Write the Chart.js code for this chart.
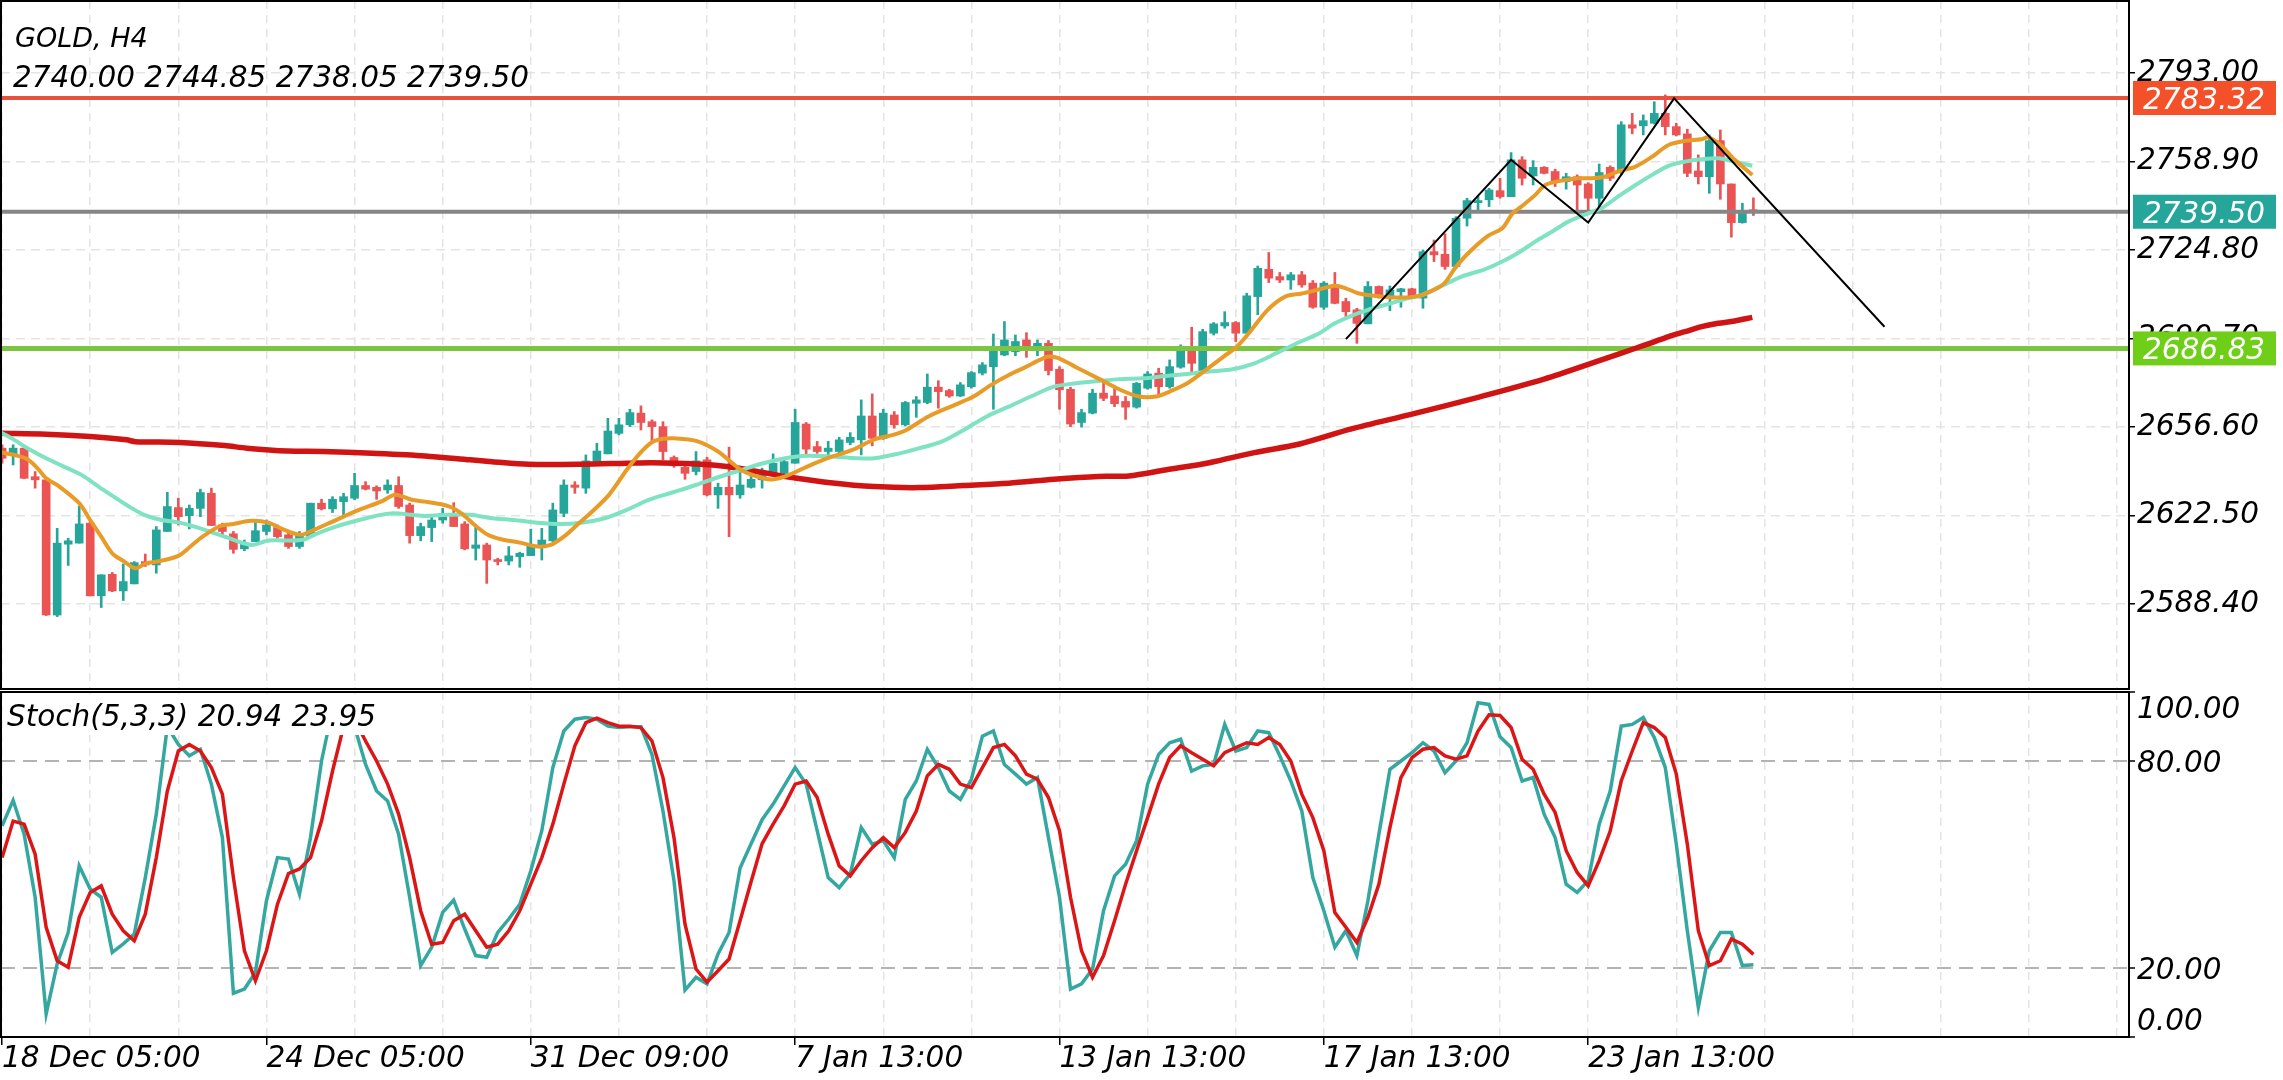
<!DOCTYPE html>
<html>
<head>
<meta charset="utf-8">
<title>GOLD, H4</title>
<script src="https://cdn.jsdelivr.net/npm/chart.js@4.4.1/dist/chart.umd.min.js"></script>
<style>
  html, body { margin: 0; padding: 0; background: #fff; }
  #wrap { position: relative; width: 2283px; height: 1080px; overflow: hidden; background: #fff; }
  #main { position: absolute; left: 0; top: 0; width: 2283px; height: 692px; }
  #stoch { position: absolute; left: 0; top: 690px; width: 2283px; height: 390px; }
</style>
</head>
<body>
<div id="wrap">
  <canvas id="main" width="2283" height="692"></canvas>
  <canvas id="stoch" width="2283" height="390"></canvas>
</div>
<script>
// --- data (H4 candles, index 0 = 18 Dec 05:00) ---
const candleOpen = [
  2648.4,2645.8,2648.4,2637.4,2636.2,2584.1,2611.4,2611.8,2619.5,2591.5,
  2599.8,2593.4,2596.1,2604.7,2603.4,2616.3,2625.5,2622.4,2625.2,2631.0,
  2618.8,2615.4,2609.6,2612.4,2616.3,2617.8,2615.0,2610.5,2614.3,2627.2,
  2625.0,2627.8,2629.1,2634.0,2633.3,2632.3,2634.0,2626.5,2614.7,2617.8,
  2620.7,2622.7,2619.2,2609.8,2611.1,2605.3,2604.9,2606.6,2607.0,2610.5,
  2612.7,2623.3,2634.2,2633.0,2643.2,2646.2,2654.1,2657.4,2661.9,2658.6,
  2656.7,2644.8,2641.0,2639.4,2643.9,2630.4,2633.3,2630.4,2633.3,2636.2,
  2638.5,2638.7,2642.6,2657.7,2649.0,2647.1,2647.1,2650.6,2651.6,2660.8,
  2652.2,2661.2,2657.4,2665.7,2666.0,2671.9,2670.6,2668.5,2672.1,2677.3,
  2679.8,2684.3,2685.6,2690.1,2686.3,2688.8,2678.8,2671.1,2658.3,2661.9,
  2669.6,2668.5,2666.4,2664.2,2671.5,2677.3,2672.1,2679.6,2687.5,2677.9,
  2692.7,2695.5,2696.8,2692.7,2706.8,2717.3,2714.5,2713.2,2715.2,2712.0,
  2702.7,2711.3,2704.9,2701.7,2696.3,2710.7,2706.8,2708.7,2709.8,2706.2,
  2724.1,2723.1,2718.4,2737.0,2743.0,2744.1,2747.6,2745.3,2759.5,2753.3,
  2756.6,2755.0,2751.1,2753.0,2750.2,2744.7,2756.6,2755.6,2773.0,2772.6,
  2773.6,2777.4,2772.3,2769.5,2755.2,2753.0,2766.9,2750.2,2735.3,2740.00
];
const candleHigh = [
  2649.7,2649.7,2649.0,2639.4,2636.2,2617.5,2613.7,2626.1,2620.1,2599.6,
  2600.5,2603.8,2604.7,2607.6,2618.2,2631.4,2629.1,2626.5,2632.6,2633.0,
  2619.5,2616.3,2613.0,2620.1,2620.7,2618.8,2615.6,2616.3,2627.2,2628.7,
  2629.7,2631.0,2638.7,2635.5,2633.9,2636.2,2637.4,2627.2,2619.5,2622.7,
  2625.2,2627.4,2620.1,2618.2,2611.8,2606.0,2610.5,2608.3,2617.2,2617.5,
  2627.2,2636.2,2635.5,2645.8,2650.3,2659.9,2659.9,2663.4,2664.7,2659.3,
  2658.6,2645.4,2641.9,2647.1,2644.9,2634.9,2648.8,2639.4,2637.5,2640.7,
  2646.2,2644.5,2663.4,2658.3,2651.0,2651.0,2652.6,2654.4,2667.0,2669.3,
  2663.4,2662.5,2666.4,2668.3,2677.0,2674.4,2671.1,2673.7,2677.9,2681.4,
  2692.4,2697.2,2692.0,2692.9,2690.1,2689.9,2679.8,2671.9,2663.4,2671.1,
  2673.7,2671.9,2668.3,2673.7,2677.9,2679.2,2682.4,2688.2,2695.0,2694.2,
  2696.8,2701.0,2697.2,2708.1,2718.6,2723.8,2716.1,2716.1,2716.5,2713.0,
  2712.6,2716.1,2706.2,2702.3,2712.6,2710.9,2710.9,2710.0,2710.0,2724.8,
  2728.6,2731.0,2737.6,2744.7,2745.3,2748.5,2752.4,2762.3,2760.7,2759.2,
  2756.9,2755.9,2754.3,2753.7,2750.7,2757.9,2757.2,2774.2,2777.4,2776.8,
  2781.9,2784.5,2773.6,2771.3,2761.4,2769.1,2771.0,2750.2,2742.8,2744.85
];
const candleLow = [
  2642.6,2641.9,2636.6,2633.0,2583.9,2583.5,2603.2,2611.8,2591.5,2587.0,
  2593.1,2589.7,2596.1,2602.8,2600.2,2616.3,2618.8,2617.3,2622.0,2618.6,
  2615.0,2607.9,2608.9,2612.4,2615.0,2613.7,2609.8,2609.8,2614.3,2624.6,
  2623.6,2622.0,2628.5,2632.3,2628.7,2631.0,2625.2,2611.8,2612.7,2612.4,
  2619.5,2618.2,2609.2,2605.3,2596.3,2603.4,2603.4,2602.5,2607.0,2605.3,
  2612.4,2622.0,2631.0,2631.0,2641.9,2646.2,2653.5,2656.7,2655.4,2650.3,
  2643.9,2641.0,2636.4,2638.1,2630.0,2625.2,2614.3,2629.1,2633.0,2633.0,
  2638.1,2638.5,2642.6,2645.4,2646.4,2645.8,2646.4,2649.7,2645.8,2649.3,
  2651.8,2656.1,2657.0,2660.3,2665.5,2663.8,2668.0,2668.3,2671.5,2676.6,
  2663.4,2684.0,2684.0,2683.4,2684.0,2676.6,2663.4,2656.7,2656.5,2661.6,
  2666.7,2664.4,2659.5,2663.8,2671.1,2668.3,2671.5,2679.2,2677.3,2677.3,
  2692.0,2694.6,2689.5,2692.7,2699.8,2712.2,2712.2,2709.6,2710.4,2702.3,
  2701.9,2704.0,2699.1,2688.8,2696.3,2706.2,2701.4,2702.7,2706.5,2702.3,
  2720.3,2717.3,2717.7,2734.0,2739.6,2741.5,2744.7,2745.3,2749.8,2749.8,
  2754.1,2749.2,2748.2,2738.9,2738.7,2741.5,2751.5,2753.7,2769.5,2769.1,
  2773.3,2769.1,2768.7,2753.0,2750.2,2746.6,2744.3,2729.7,2735.1,2738.05
];
const candleClose = [
  2644.5,2648.4,2636.8,2636.2,2584.1,2611.8,2612.7,2619.2,2591.5,2599.6,
  2593.4,2597.0,2604.3,2603.4,2616.9,2625.9,2622.0,2625.2,2631.3,2618.6,
  2616.3,2609.4,2611.8,2616.6,2618.8,2614.3,2610.5,2615.2,2627.2,2625.0,
  2628.7,2629.7,2634.0,2632.6,2631.9,2634.2,2625.9,2614.7,2618.2,2620.7,
  2623.3,2618.2,2609.6,2611.1,2605.3,2604.7,2606.9,2607.9,2611.1,2613.0,
  2624.6,2634.2,2633.3,2643.5,2647.3,2655.0,2657.4,2662.1,2658.3,2656.7,
  2647.1,2641.6,2638.7,2643.5,2630.4,2633.3,2630.4,2634.2,2636.4,2638.1,
  2642.6,2643.2,2658.3,2648.0,2647.1,2648.4,2651.6,2652.6,2660.8,2652.2,
  2661.9,2657.4,2666.0,2667.0,2671.9,2670.2,2668.5,2672.8,2677.5,2680.5,
  2686.5,2690.1,2689.5,2686.3,2688.8,2678.3,2670.9,2657.7,2662.1,2669.6,
  2667.6,2665.5,2664.2,2673.4,2677.0,2672.1,2679.8,2687.5,2681.1,2693.3,
  2696.3,2696.8,2692.7,2707.1,2717.7,2713.9,2713.2,2715.2,2711.3,2702.7,
  2712.0,2704.2,2701.0,2696.5,2710.7,2706.5,2709.4,2709.8,2706.8,2724.1,
  2722.9,2718.4,2737.0,2743.8,2743.8,2747.9,2745.3,2759.5,2752.4,2756.6,
  2754.3,2751.1,2753.0,2749.8,2744.7,2754.6,2752.4,2773.0,2771.7,2774.6,
  2777.4,2772.3,2769.1,2754.3,2753.0,2766.9,2750.2,2735.3,2739.6,2739.50
];

// moving averages, [candle index, price] read at intervals
const fastMa = [
  [-0.1,2646.7],[1.1,2645.8],[2.3,2644.1],[3.2,2640.7],[4,2636.8],[5.2,2633.6],[7,2627.2],[8,2620.7],
  [9,2614.3],[10,2607.9],[11.1,2604.7],[12.1,2602.1],[13.1,2604.1],[14.1,2604.7],[16,2606.9],[17.1,2610.5],
  [18.2,2614.3],[19.8,2618.4],[21,2619.2],[22.6,2620.4],[24.2,2619.7],[25.3,2617.5],[27.1,2615.0],[28.3,2616.9],
  [30.3,2620.7],[32.4,2624.6],[34.4,2627.8],[35.6,2630.4],[36.4,2629.7],[37.2,2628.5],[38.4,2627.8],[40.5,2626.1],
  [41.7,2623.3],[42.9,2618.8],[44.1,2615.0],[45.3,2613.3],[47,2612.0],[48.6,2610.5],[49.8,2611.1],[51,2614.3],
  [52.2,2618.8],[53.4,2623.3],[55.1,2630.4],[56.7,2640.0],[57.9,2646.4],[59,2650.7],[60,2652.0],[61,2652.2],
  [63,2651.2],[65,2647.1],[67.1,2640.0],[69.1,2636.8],[70.1,2636.4],[71.1,2637.5],[73.1,2641.3],[75.2,2644.9],
  [77.2,2647.7],[79.2,2651.8],[80.9,2653.5],[82.1,2655.4],[84.1,2660.6],[86.5,2665.1],[88.2,2668.3],[89.8,2672.8],
  [91.4,2676.6],[93,2679.8],[94.2,2682.4],[95,2683.7],[95.9,2683.1],[97.5,2679.6],[99.5,2675.3],[101.5,2670.9],
  [103.2,2668.3],[104.8,2668.3],[106,2670.2],[107.6,2673.4],[109.2,2678.3],[110.9,2683.7],[112.1,2687.5],[113.3,2693.3],
  [114.9,2701.7],[116.5,2706.8],[118,2708.0],[119.5,2709.5],[121,2711.0],[122,2710.0],[123.1,2708.1],[124.6,2707.1],
  [126.2,2706.5],[127.7,2706.5],[128.9,2707.4],[130.1,2709.6],[131,2712.2],[131.9,2717.7],[133.1,2723.5],[134.9,2730.2],
  [136.2,2733.1],[137.1,2738.7],[138,2741.7],[139.2,2746.0],[140.1,2749.8],[141.6,2751.5],[143.1,2752.4],[144.3,2752.4],
  [145.5,2753.0],[146.7,2755.0],[148.3,2756.9],[149.8,2760.7],[151.3,2765.2],[152.8,2766.8],[154.3,2767.4],[154.9,2768.2],
  [156.1,2764.9],[157.3,2759.5],[158.9,2753.7]
];
const midMa = [
  [-0.1,2654.4],[1.1,2651.6],[2.3,2648.4],[4,2644.5],[5.6,2641.3],[7.2,2638.1],[9.2,2632.3],[11.3,2626.5],
  [12.9,2622.7],[14.5,2620.7],[16.1,2619.7],[18.2,2617.2],[20.2,2614.3],[22.6,2611.1],[24.2,2612.8],[26.3,2612.8],
  [27.5,2613.3],[28.3,2615.0],[30.3,2618.2],[32.4,2620.7],[34.4,2622.7],[35.6,2623.3],[37.2,2622.7],[38.4,2622.3],
  [40.5,2622.7],[42.5,2622.7],[44.5,2621.4],[46.5,2620.7],[48.6,2619.7],[50.6,2619.2],[52.6,2619.7],[54.7,2621.4],
  [56.7,2624.6],[58.7,2628.5],[61,2631.5],[63,2634.2],[65,2637.2],[67.1,2640.0],[69.1,2642.6],[71.1,2644.5],
  [73.1,2645.5],[75.2,2645.2],[77.6,2644.5],[79.2,2644.5],[81.3,2646.2],[83.3,2648.4],[85.3,2650.9],[87.3,2655.4],
  [89.4,2660.6],[91.4,2664.4],[93.4,2668.3],[95.5,2672.1],[97.5,2673.4],[99.5,2674.3],[101.5,2675.0],[103.6,2675.3],
  [105.6,2676.2],[107.6,2677.0],[109.6,2677.9],[111.7,2678.8],[113.7,2681.1],[115.7,2685.0],[117.9,2689.5],[119.6,2692.7],
  [121,2696.5],[122.5,2699.4],[124,2701.7],[125.9,2704.0],[127.7,2706.2],[128.9,2707.4],[130.7,2710.9],[132.5,2714.5],
  [134.6,2717.3],[136.2,2720.3],[137.7,2723.8],[139.2,2728.0],[140.7,2731.8],[142.2,2735.7],[144,2738.9],[145.2,2740.8],
  [146.7,2745.3],[148.3,2749.8],[149.8,2753.7],[151.3,2757.2],[152.8,2758.8],[154.3,2759.7],[155.8,2760.1],[157.3,2758.8],
  [158.9,2757.2]
];
const slowMa = [
  [-0.1,2654.1],[4,2653.8],[8,2652.9],[11.3,2651.6],[12.1,2650.9],[16.1,2650.6],[20.2,2649.4],[22.2,2648.4],
  [25.9,2647.3],[29.1,2647.1],[33.6,2646.4],[38.4,2645.4],[42.5,2643.9],[44.5,2643.2],[47.8,2642.2],[52.6,2642.2],
  [56.7,2642.6],[59,2642.8],[63,2642.3],[65.8,2641.3],[69.1,2639.0],[71.1,2637.5],[75.2,2635.1],[79.2,2633.6],
  [83.3,2633.2],[87.3,2634.0],[91.4,2634.9],[95.5,2636.4],[99.5,2637.5],[102.3,2637.7],[105.6,2640.0],[109.6,2642.8],
  [113.7,2646.7],[117.8,2650.0],[122.5,2655.8],[128,2661.5],[134,2668.0],[140,2675.0],[145.2,2682.4],[148.3,2686.9],
  [149.8,2689.1],[151.3,2691.4],[152.8,2693.3],[154.3,2695.2],[155.8,2696.5],[157.3,2697.4],[158.9,2698.8]
];

// hand-drawn zigzag, [candle index, price]
const zigzag = [[122.0,2690.4],[137.0,2759.5],[144.0,2735.3],[151.8,2783.2],[170.9,2695.2]];

// horizontal levels
const levelValues = [2783.32, 2739.50, 2686.83];
const levelLineColors = ['#e8513b', '#868686', '#7cc540'];
const levelLineWidths = [4, 4, 5];
const levelTagColors = ['#f4502a', '#26a69a', '#6fcf18'];

// stochastic (5,3,3) per candle
const stochK = [
  61.2,68.6,58.8,40.5,6.7,21.2,30.3,49.6,42.9,40.5,
  24.5,27.0,29.8,46.2,64.6,90,84.8,81.5,83.4,73.3,
  57.8,12.7,13.9,18.7,39.5,52.0,51.6,41.4,57.8,80.0,
  95,97,90,79.0,71.3,68.4,58.8,40.5,20.7,26.0,
  36.1,39.7,31.3,23.6,23.1,30.3,34.2,38.5,48.2,59.8,
  78.1,88.7,92.1,92.6,92.1,90.1,89.7,89.9,89.9,81.9,
  65.5,45.3,13.6,17.3,15.4,24.1,30.3,49,56,63,
  67.5,72.8,78.1,73.3,59.8,46.2,43.3,47.2,60.7,55.9,
  56.9,52.0,68.9,74.2,83.4,78.1,71.3,68.9,74.7,87.2,
  88.7,79.0,76.2,73.3,75.2,57.8,40.5,13.9,15.4,19.7,
  36.6,46.7,50.1,56.9,73.3,81.9,85.3,86.3,77.1,78.6,
  79.0,90.6,82.9,83.9,88.7,88.2,81.5,74.2,65.5,46.2,
  36.6,26.0,30.8,23.6,39.5,58.8,77.6,80.0,82.4,85.3,
  82.9,76.6,80.0,85.3,96.9,96.4,87,83.9,74.2,75.2,
  64.6,57.8,44.3,41.9,45.3,61.7,71.3,90.1,90.6,92.6,
  86.8,78.1,55.9,30.8,8.6,25.0,30.3,30.3,20.7,20.94
];
const stochD = [
  52.0,62.6,61.7,53.0,31.8,22.1,20.2,34.7,41.9,43.8,
  35.6,30.8,27.9,35.6,52.0,71.3,82.9,84.8,82.9,78.1,
  70.4,46.2,25.0,16.3,25.0,38.5,47.4,48.7,52.0,62.6,
  77.1,90,92,85.8,80.0,73.3,64.6,52.0,36.6,26.9,
  27.4,33.7,35.6,30.8,26.0,26.9,30.8,36.6,44.3,52.0,
  61.7,73.3,84.4,91.1,92.4,91.1,90.1,90.1,89.7,85.8,
  75.2,57.8,32.7,19.7,15.9,19.2,22.6,33.7,45,56,
  61.7,67.0,73.3,74.2,69.4,58.8,49.6,46.7,51.1,54.9,
  57.8,54.9,59.3,65.5,75.7,79.0,77.6,73.3,72.3,78.1,
  83.9,84.8,81.5,76.2,74.7,69.4,59.8,40.5,25.0,17.3,
  23.6,33.7,44.3,54.0,63.6,73.3,81.0,84.4,82.4,80.5,
  78.6,82.4,83.9,85.3,84.8,86.8,84.8,80.0,70.4,63.6,
  54.0,36.1,31.8,27.4,34.7,44.3,60.7,75.2,81.0,83.4,
  83.9,81.5,80.5,81.5,88.7,93.4,93.2,89.7,80.5,77.6,
  70.4,65.1,54.0,47.7,43.8,51.1,59.7,74.2,82.9,91.1,
  89.7,86.8,76.2,55.9,30.8,20.7,22.1,28.4,26.9,23.95
];

// axes
const priceTicks = [2588.40, 2622.50, 2656.60, 2690.70, 2724.80, 2758.90, 2793.00];
const stochLevels = [0, 20, 80, 100];
const gridIndex = [0,8,16,24,32,40,48,56,64,72,80,88,96,104,112,120,128,136,144,152,160,168,176,184,192];
const labelIndex = [0, 24, 48, 72, 96, 120, 144];
const dateLabels = ['18 Dec 05:00', '24 Dec 05:00', '31 Dec 09:00', '7 Jan 13:00', '13 Jan 13:00', '17 Jan 13:00', '23 Jan 13:00'];

const xMin = -0.1, xMax = 193.1;
const yMin = 2555.6, yMax = 2820.7;

const FAMILY = '"DejaVu Sans", Verdana, sans-serif';
const FONT = 'italic 29.5px ' + FAMILY;
const tickFont = { family: FAMILY, size: 29.5, style: 'italic', lineHeight: 1 };
const gridColor = '#e4e4e4';
const upColor = '#26a69a';
const downColor = '#ea5455';

const idx = candleOpen.map((_, i) => i);
const candleColors = idx.map(i => candleClose[i] >= candleOpen[i] ? upColor : downColor);
const pts = arr => arr.map(([x, y]) => ({ x, y }));

const framePlugin = {
  id: 'frame',
  afterDraw(chart) {
    const { ctx, chartArea: a } = chart;
    ctx.save();
    ctx.strokeStyle = '#000';
    ctx.lineWidth = 2;
    ctx.strokeRect(a.left, a.top, a.right - a.left, a.bottom - a.top);
    ctx.restore();
  }
};

const mainTextPlugin = {
  id: 'mainText',
  afterDraw(chart) {
    const { ctx, chartArea: a } = chart;
    const ys = chart.scales.y;
    ctx.save();
    ctx.font = FONT;
    ctx.textBaseline = 'alphabetic';
    levelValues.forEach((v, k) => {
      const py = ys.getPixelForValue(v);
      ctx.fillStyle = levelTagColors[k];
      ctx.fillRect(a.right + 4, py - 17, 143, 34);
      ctx.fillStyle = '#fff';
      ctx.fillText(v.toFixed(2), a.right + 14, py + 11);
    });
    ctx.fillStyle = '#000';
    ctx.font = 'italic 27px ' + FAMILY;
    ctx.fillText('GOLD, H4', 15, 47);
    const last = candleOpen.length - 1;
    const ohlc = [candleOpen[last], candleHigh[last], candleLow[last], candleClose[last]].map(v => v.toFixed(2)).join(' ');
    ctx.font = FONT;
    ctx.fillText(ohlc, 13, 87);
    ctx.restore();
  }
};

const stochTextPlugin = {
  id: 'stochText',
  afterDatasetsDraw(chart) {
    const { ctx } = chart;
    const last = stochK.length - 1;
    ctx.save();
    ctx.fillStyle = '#fff';
    ctx.fillRect(3, 4, 376, 41);
    ctx.fillStyle = '#000';
    ctx.font = FONT;
    ctx.fillText('Stoch(5,3,3) ' + stochK[last].toFixed(2) + ' ' + stochD[last].toFixed(2), 7, 36);
    ctx.restore();
  },
  afterDraw(chart) {
    const { ctx, chartArea: a } = chart;
    const ys = chart.scales.y;
    const shift = { 0: -7, 20: 11, 80: 11, 100: 26 };
    ctx.save();
    ctx.fillStyle = '#000';
    ctx.font = FONT;
    stochLevels.forEach(v => {
      ctx.fillText(v.toFixed(2), a.right + 8, ys.getPixelForValue(v) + shift[v]);
    });
    ctx.restore();
  }
};

new Chart(document.getElementById('main'), {
  type: 'line',
  data: {
    datasets: [
      { data: pts(zigzag), borderColor: '#000', borderWidth: 2, pointRadius: 0, tension: 0, order: 0 },
      { data: pts(fastMa), borderColor: '#e89b27', borderWidth: 4, pointRadius: 0, tension: 0.3, order: 1 },
      { data: pts(midMa), borderColor: '#7fe2c2', borderWidth: 4, pointRadius: 0, tension: 0.3, order: 2 },
      { data: pts(slowMa), borderColor: '#d01414', borderWidth: 5.5, pointRadius: 0, tension: 0.3, order: 3 },
      ...levelValues.map((v, k) => ({
        data: [{ x: xMin, y: v }, { x: xMax, y: v }],
        borderColor: levelLineColors[k], borderWidth: levelLineWidths[k], pointRadius: 0, order: 4
      })),
      {
        type: 'bar', data: idx.map(i => ({ x: i, y: [candleOpen[i], candleClose[i]] })),
        backgroundColor: candleColors, barThickness: 8, minBarLength: 2, grouped: false, order: 5
      },
      {
        type: 'bar', data: idx.map(i => ({ x: i, y: [candleLow[i], candleHigh[i]] })),
        backgroundColor: candleColors, barThickness: 2, grouped: false, order: 6
      }
    ]
  },
  options: {
    responsive: false,
    animation: false,
    devicePixelRatio: 1,
    events: [],
    layout: { padding: { top: 1, left: 1, right: 0, bottom: 3 }, autoPadding: false },
    plugins: { legend: { display: false }, tooltip: { enabled: false } },
    scales: {
      x: {
        type: 'linear', min: xMin, max: xMax, offset: false, bounds: 'data',
        afterBuildTicks: s => { s.ticks = gridIndex.map(v => ({ value: v })); },
        ticks: { display: false },
        grid: { color: gridColor, lineWidth: 1.5, drawTicks: false, offset: false },
        border: { display: true, color: '#000', width: 2, dash: [8, 6] },
        afterFit: s => { s.height = 0; s.paddingLeft = 0; s.paddingRight = 0; }
      },
      y: {
        type: 'linear', position: 'right', min: yMin, max: yMax, bounds: 'data', beginAtZero: false,
        afterBuildTicks: s => { s.ticks = priceTicks.map(v => ({ value: v })); },
        ticks: { callback: v => v.toFixed(2), color: '#000', font: tickFont, padding: 2 },
        grid: { color: gridColor, lineWidth: 1.5, tickLength: 6, tickColor: '#000', tickWidth: 1.5, tickBorderDash: [] },
        border: { display: true, color: '#000', width: 2, dash: [9, 6] },
        afterFit: s => { s.width = 154; s.paddingTop = 0; s.paddingBottom = 0; }
      }
    }
  },
  plugins: [mainTextPlugin, framePlugin]
});

new Chart(document.getElementById('stoch'), {
  type: 'line',
  data: {
    datasets: [
      { data: idx.map(i => ({ x: i, y: stochD[i] })), borderColor: '#dc1616', borderWidth: 3.5, pointRadius: 0, tension: 0, order: 0 },
      { data: idx.map(i => ({ x: i, y: stochK[i] })), borderColor: '#34a8a0', borderWidth: 3.5, pointRadius: 0, tension: 0, order: 1 }
    ]
  },
  options: {
    responsive: false,
    animation: false,
    devicePixelRatio: 1,
    events: [],
    layout: { padding: { top: 2, left: 1, right: 0, bottom: 0 }, autoPadding: false },
    plugins: { legend: { display: false }, tooltip: { enabled: false } },
    scales: {
      x: {
        type: 'linear', min: xMin, max: xMax, offset: false, bounds: 'data',
        afterBuildTicks: s => { s.ticks = gridIndex.map(v => ({ value: v })); },
        ticks: {
          autoSkip: false, maxRotation: 0, minRotation: 0, align: 'start', padding: 0,
          color: '#000', font: tickFont,
          callback: v => { const k = labelIndex.indexOf(v); return k < 0 ? '' : dateLabels[k]; }
        },
        grid: {
          color: gridColor, lineWidth: 1.5, tickLength: 8, tickWidth: 1.5, tickBorderDash: [], offset: false,
          tickColor: c => (c.tick && labelIndex.includes(c.tick.value)) ? '#000' : 'rgba(0,0,0,0)'
        },
        border: { display: true, color: '#000', width: 2, dash: [8, 6] },
        afterFit: s => { s.height = 43; s.paddingLeft = 0; s.paddingRight = 0; }
      },
      y: {
        type: 'linear', position: 'right', min: 0, max: 100, bounds: 'data',
        afterBuildTicks: s => { s.ticks = stochLevels.map(v => ({ value: v })); },
        ticks: { display: false },
        grid: {
          lineWidth: 2, tickLength: 6, tickWidth: 1.5, tickColor: '#000', tickBorderDash: [],
          color: c => (c.tick && (c.tick.value === 20 || c.tick.value === 80)) ? '#b3b3b3' : 'rgba(0,0,0,0)'
        },
        border: { display: true, color: '#000', width: 2, dash: [14, 8] },
        afterFit: s => { s.width = 154; s.paddingTop = 0; s.paddingBottom = 0; }
      }
    }
  },
  plugins: [stochTextPlugin, framePlugin]
});
</script>
</body>
</html>
